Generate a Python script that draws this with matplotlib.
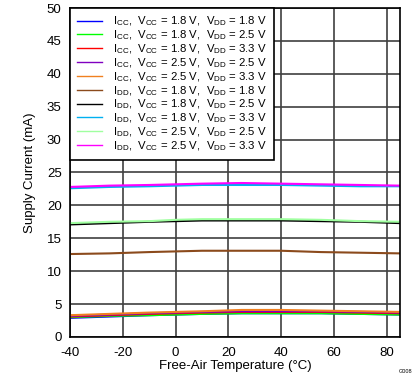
import numpy as np
import matplotlib
matplotlib.use("Agg")
import matplotlib.pyplot as plt

plt.rcParams['font.family'] = ['Liberation Sans', 'DejaVu Sans']
plt.rcParams['mathtext.fontset'] = 'custom'
plt.rcParams['mathtext.rm'] = 'Liberation Sans'
plt.rcParams['mathtext.it'] = 'Liberation Sans'
plt.rcParams['axes.unicode_minus'] = False

temp = [-40, -25, -10, 0, 10, 25, 40, 55, 70, 85]

icc_18_18 = [2.9, 3.1, 3.3, 3.4, 3.5, 3.6, 3.6, 3.6, 3.5, 3.4]
icc_18_25 = [3.0, 3.2, 3.3, 3.4, 3.5, 3.6, 3.6, 3.6, 3.5, 3.4]
icc_18_33 = [3.1, 3.3, 3.5, 3.6, 3.7, 3.8, 3.8, 3.8, 3.7, 3.6]
icc_25_25 = [3.2, 3.4, 3.6, 3.7, 3.8, 3.9, 3.9, 3.9, 3.8, 3.7]
icc_25_33 = [3.3, 3.5, 3.7, 3.8, 3.9, 4.1, 4.1, 4.0, 3.9, 3.8]
idd_18_18 = [12.6, 12.7, 12.9, 13.0, 13.1, 13.1, 13.1, 12.9, 12.8, 12.7]
idd_18_25 = [17.1, 17.3, 17.5, 17.6, 17.7, 17.7, 17.7, 17.6, 17.5, 17.3]
idd_18_33 = [22.6, 22.8, 22.9, 23.0, 23.1, 23.1, 23.1, 23.0, 22.9, 22.9]
idd_25_25 = [17.3, 17.5, 17.6, 17.8, 17.9, 17.9, 17.9, 17.8, 17.6, 17.5]
idd_25_33 = [22.8, 23.0, 23.1, 23.2, 23.3, 23.4, 23.3, 23.2, 23.1, 23.0]

series = [icc_18_18, icc_18_25, icc_18_33, icc_25_25, icc_25_33,
          idd_18_18, idd_18_25, idd_18_33, idd_25_25, idd_25_33]
labels = [
    r"I$_{\mathrm{CC}}$,  V$_{\mathrm{CC}}$ = 1.8 V,  V$_{\mathrm{DD}}$ = 1.8 V",
    r"I$_{\mathrm{CC}}$,  V$_{\mathrm{CC}}$ = 1.8 V,  V$_{\mathrm{DD}}$ = 2.5 V",
    r"I$_{\mathrm{CC}}$,  V$_{\mathrm{CC}}$ = 1.8 V,  V$_{\mathrm{DD}}$ = 3.3 V",
    r"I$_{\mathrm{CC}}$,  V$_{\mathrm{CC}}$ = 2.5 V,  V$_{\mathrm{DD}}$ = 2.5 V",
    r"I$_{\mathrm{CC}}$,  V$_{\mathrm{CC}}$ = 2.5 V,  V$_{\mathrm{DD}}$ = 3.3 V",
    r"I$_{\mathrm{DD}}$,  V$_{\mathrm{CC}}$ = 1.8 V,  V$_{\mathrm{DD}}$ = 1.8 V",
    r"I$_{\mathrm{DD}}$,  V$_{\mathrm{CC}}$ = 1.8 V,  V$_{\mathrm{DD}}$ = 2.5 V",
    r"I$_{\mathrm{DD}}$,  V$_{\mathrm{CC}}$ = 1.8 V,  V$_{\mathrm{DD}}$ = 3.3 V",
    r"I$_{\mathrm{DD}}$,  V$_{\mathrm{CC}}$ = 2.5 V,  V$_{\mathrm{DD}}$ = 2.5 V",
    r"I$_{\mathrm{DD}}$,  V$_{\mathrm{CC}}$ = 2.5 V,  V$_{\mathrm{DD}}$ = 3.3 V",
]
colors = ["#0000ff", "#00ff00", "#ff0000", "#8000c0", "#f08020",
          "#8b4a1c", "#000000", "#00b0f0", "#a0ffa0", "#ff00ff"]

fig = plt.figure(figsize=(4.19, 3.82), dpi=100)
ax = fig.add_axes([0.167, 0.118, 0.788, 0.861])

for y, lab, c in zip(series, labels, colors):
    ax.plot(temp, y, color=c, lw=1.5, label=lab)

ax.set_xlim(-40, 85)
ax.set_ylim(0, 50)
ax.set_xticks(np.arange(-40, 81, 20))
ax.set_yticks(np.arange(0, 51, 5))
ax.grid(True, color="#404040", lw=1.2)
ax.set_axisbelow(True)
ax.tick_params(length=0, labelsize=9.5)
ax.tick_params(axis="x", pad=7)
ax.tick_params(axis="y", pad=6)
for s in ax.spines.values():
    s.set_color("black")
    s.set_linewidth(1.2)

ax.set_xlabel("Free-Air Temperature (°C)", fontsize=9.5, labelpad=1)
ax.set_ylabel("Supply Current (mA)", fontsize=9.5, labelpad=8)

leg = ax.legend(loc="upper left", fontsize=8.2, frameon=True, fancybox=False,
                edgecolor="black", framealpha=1, handlelength=2.2,
                labelspacing=0.02, borderaxespad=0.0, handletextpad=1.0,
                borderpad=0.6)
leg.get_frame().set_linewidth(1.2)
for h in leg.get_lines():
    h.set_linewidth(1.0)
leg.set_zorder(5)

fig.text(0.985, 0.02, "G008", fontsize=4, ha="right", va="bottom")

fig.savefig("out.png", dpi=100)
